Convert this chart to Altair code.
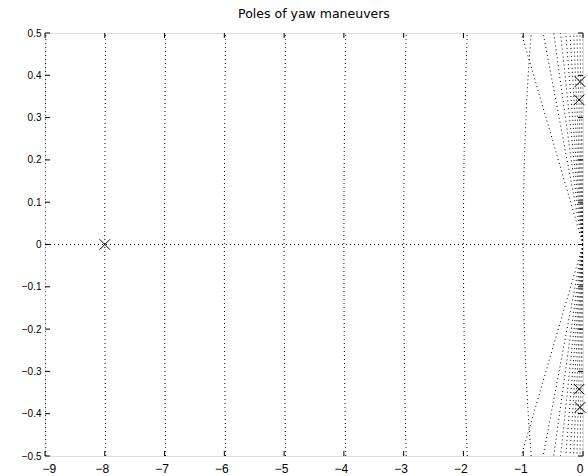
import altair as alt
import pandas as pd

# Closed-loop poles (real, imaginary)
pole_re = [-8.0, -0.05, -0.05, -0.065, -0.065]
pole_im = [0.0, 0.385, -0.385, 0.342, -0.342]

# s-plane grid: damping ratios (rays) and natural frequencies (circles)
zeta = [0.0, 0.1, 0.2, 0.3, 0.4, 0.5, 0.6, 0.7, 0.8, 0.9, 1.0]
wn = [1, 2, 3, 4, 5, 6, 7, 8, 9]
wn_max = 10

x_ticks = [-9, -8, -7, -6, -5, -4, -3, -2, -1, 0]
y_ticks = [-0.5, -0.4, -0.3, -0.2, -0.1, 0, 0.1, 0.2, 0.3, 0.4, 0.5]

title_text = "Poles of yaw maneuvers"

W, H = 538, 423
TICK = 5
FONT = "DejaVu Sans"
dot = [1, 3]

xs = alt.Scale(domain=[-9, 0], nice=False, zero=False)
ys = alt.Scale(domain=[-0.5, 0.5], nice=False, zero=False)
axX = alt.Axis(
    values=x_ticks,
    format="d",
    title=None,
    grid=False,
    ticks=False,
    domain=False,
    labelPadding=7,
    labelFontSize=12,
    labelOffset={"condition": {"test": "datum.value < 0", "value": -3}, "value": 0},
)
axY = alt.Axis(
    values=y_ticks,
    format="~g",
    title=None,
    grid=False,
    ticks=False,
    domain=False,
    labelPadding=4,
)


def X(field):
    return alt.X(field, scale=xs, axis=axX)


def Y(field):
    return alt.Y(field, scale=ys, axis=axY)


# constant-damping rays from the origin
rays = alt.Chart(pd.DataFrame({"zeta": zeta})).transform_calculate(
    x0="0",
    y0="0",
    xe=f"-{wn_max} * datum.zeta",
    yu=f"{wn_max} * sqrt(1 - datum.zeta * datum.zeta)",
    yd=f"-{wn_max} * sqrt(1 - datum.zeta * datum.zeta)",
)
ray_style = dict(clip=True, strokeDash=dot, color="black", strokeWidth=1)
rays_up = rays.mark_rule(**ray_style).encode(
    x=X("x0:Q"), y=Y("y0:Q"), x2="xe:Q", y2="yu:Q"
)
rays_dn = rays.mark_rule(**ray_style).encode(
    x=X("x0:Q"), y=Y("y0:Q"), x2="xe:Q", y2="yd:Q"
)

# constant natural-frequency circles
circles = (
    alt.Chart(pd.DataFrame({"wn": wn}))
    .transform_calculate(yy="sequence(-0.5, 0.5001, 0.005)")
    .transform_flatten(["yy"])
    .transform_calculate(xx="-sqrt(datum.wn * datum.wn - datum.yy * datum.yy)")
    .mark_line(clip=True, strokeDash=dot, color="black", strokeWidth=1)
    .encode(x=X("xx:Q"), y=Y("yy:Q"), detail="wn:N", order="yy:Q")
)

# inward tick marks on all four sides of the box
xt = pd.DataFrame({"t": x_ticks})
yt = pd.DataFrame({"t": y_ticks})
tick_style = dict(color="black", strokeWidth=1)
ticks = [
    alt.Chart(xt).mark_rule(**tick_style).encode(
        x=X("t:Q"), y=alt.value(H), y2=alt.value(H - TICK)
    ),
    alt.Chart(xt).mark_rule(**tick_style).encode(
        x=X("t:Q"), y=alt.value(0), y2=alt.value(TICK)
    ),
    alt.Chart(yt).mark_rule(**tick_style).encode(
        y=Y("t:Q"), x=alt.value(0), x2=alt.value(TICK)
    ),
    alt.Chart(yt).mark_rule(**tick_style).encode(
        y=Y("t:Q"), x=alt.value(W), x2=alt.value(W - TICK)
    ),
]

poles = (
    alt.Chart(pd.DataFrame({"re": pole_re, "im": pole_im}))
    .mark_point(
        shape="M-1,-1L1,1M-1,1L1,-1",
        size=110,
        filled=False,
        color="black",
        strokeWidth=1,
        opacity=1,
    )
    .encode(x=X("re:Q"), y=Y("im:Q"))
)

# plot title, centred above the box
title = (
    alt.Chart(pd.DataFrame({"label": [title_text]}))
    .mark_text(
        font=FONT,
        fontSize=12.5,
        color="black",
        align="center",
        baseline="alphabetic",
    )
    .encode(text="label:N", x=alt.value(W / 2), y=alt.value(-15.5))
)

chart = (
    alt.layer(circles, rays_up, rays_dn, *ticks, poles, title)
    .properties(
        width=W,
        height=H,
        autosize=alt.AutoSizeParams(type="none"),
        padding={"left": 45, "top": 33, "right": 5, "bottom": 20},
    )
    .configure_view(stroke="black", strokeWidth=1)
    .configure_axis(
        domain=False,
        ticks=False,
        grid=False,
        labelFont=FONT,
        labelFontSize=11.5,
        labelColor="black",
    )
    .configure(background="white")
)

chart.save("out.html", embed_options={"renderer": "svg", "actions": False})
